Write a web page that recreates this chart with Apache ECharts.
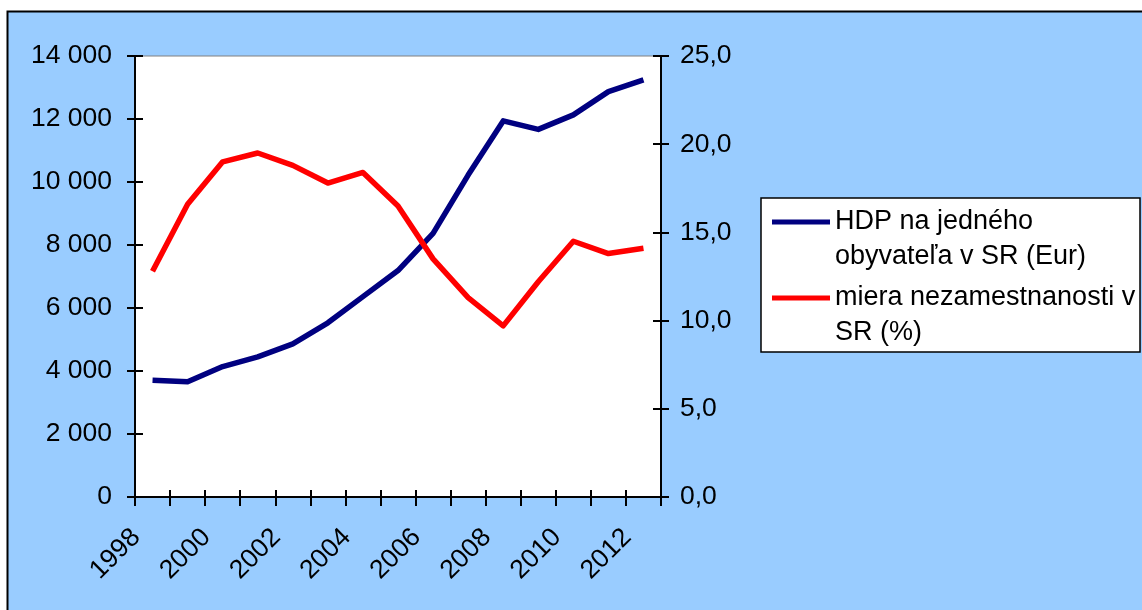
<!DOCTYPE html>
<html>
<head>
<meta charset="utf-8">
<script src="https://cdn.jsdelivr.net/npm/echarts@6/dist/echarts.min.js"></script>
<style>
  html, body { margin: 0; padding: 0; background: #ffffff; }
  #chart { width: 1142px; height: 610px; }
</style>
</head>
<body>
<div id="chart"></div>
<script>
// ---- data ----
const years = ['1998','1999','2000','2001','2002','2003','2004','2005','2006','2007','2008','2009','2010','2011','2012'];
const hdpPerCapita = [3710, 3660, 4140, 4450, 4860, 5530, 6360, 7190, 8370, 10220, 11940, 11670, 12130, 12870, 13240];
const unemployment = [12.8, 16.6, 19.0, 19.5, 18.8, 17.8, 18.4, 16.5, 13.5, 11.3, 9.7, 12.2, 14.5, 13.8, 14.1];
const seriesNames = ['HDP na jedného\nobyvateľa v SR (Eur)', 'miera nezamestnanosti v\nSR (%)'];
const leftAxis = { min: 0, max: 14000, interval: 2000 };
const rightAxis = { min: 0, max: 25, interval: 5 };

const FONT = '"Liberation Sans", Arial, sans-serif';
const FS = 26.5;
const LFS = 27;
const LH = 35;

const chart = echarts.init(document.getElementById('chart'), null, { renderer: 'canvas' });

const axisLineStyle = { color: '#000', width: 2 };
function leftFmt(v) { return String(v).replace(/\B(?=(\d{3})+(?!\d))/g, ' '); }
function rightFmt(v) { return v.toFixed(1).replace('.', ','); }

const option = {
  backgroundColor: '#ffffff',
  animation: false,
  graphic: [
    { type: 'rect', z: -10, silent: true,
      shape: { x: 7.5, y: 11.5, width: 1200, height: 700 },
      style: { fill: '#99CCFF', stroke: '#000', lineWidth: 2 } },
    { type: 'rect', z: 3, silent: true,
      shape: { x: 761, y: 198, width: 379, height: 154 },
      style: { fill: '#ffffff', stroke: '#000', lineWidth: 1.5 } }
  ],
  grid: {
    left: 135, right: 481, top: 56, bottom: 113,
    show: true, backgroundColor: '#ffffff', borderColor: '#808080', borderWidth: 1
  },
  legend: {
    orient: 'vertical',
    left: 772, top: 169.5,
    padding: 0,
    itemWidth: 58, itemHeight: 5, itemGap: -29,
    icon: 'rect',
    selectedMode: false,
    data: seriesNames,
    formatter: function (name) { return '\n' + name; },
    textStyle: { fontSize: LFS, fontFamily: FONT, color: '#000', lineHeight: LH }
  },
  xAxis: [
    { type: 'category', data: years, position: 'bottom', boundaryGap: true,
      axisLine: { show: true, lineStyle: axisLineStyle },
      axisTick: { show: true, interval: 0, length: 9, inside: false, lineStyle: axisLineStyle },
      axisLabel: { interval: 1, rotate: 45, margin: 20, padding: [0, 23, 0, 0],
        fontSize: FS, fontFamily: FONT, color: '#000' },
      splitLine: { show: false } },
    { type: 'category', data: years, position: 'bottom', boundaryGap: true,
      axisLine: { show: false },
      axisTick: { show: true, interval: 0, length: 7, inside: true, lineStyle: axisLineStyle },
      axisLabel: { show: false }, splitLine: { show: false } }
  ],
  yAxis: [
    { type: 'value', position: 'left', min: leftAxis.min, max: leftAxis.max, interval: leftAxis.interval,
      axisLine: { show: true, lineStyle: axisLineStyle },
      axisTick: { show: true, length: 8, lineStyle: axisLineStyle },
      axisLabel: { margin: 23, fontSize: FS, fontFamily: FONT, color: '#000', formatter: leftFmt },
      splitLine: { show: false } },
    { type: 'value', position: 'left', min: leftAxis.min, max: leftAxis.max, interval: leftAxis.interval,
      axisLine: { show: false },
      axisTick: { show: true, inside: true, length: 8, lineStyle: axisLineStyle },
      axisLabel: { show: false }, splitLine: { show: false } },
    { type: 'value', position: 'right', min: rightAxis.min, max: rightAxis.max, interval: rightAxis.interval,
      axisLine: { show: true, lineStyle: axisLineStyle },
      axisTick: { show: true, length: 8, lineStyle: axisLineStyle },
      axisLabel: { margin: 19, fontSize: FS, fontFamily: FONT, color: '#000', formatter: rightFmt },
      splitLine: { show: false } },
    { type: 'value', position: 'right', min: rightAxis.min, max: rightAxis.max, interval: rightAxis.interval,
      axisLine: { show: false },
      axisTick: { show: true, inside: true, length: 8, lineStyle: axisLineStyle },
      axisLabel: { show: false }, splitLine: { show: false } }
  ],
  series: [
    { name: seriesNames[0], type: 'line', xAxisIndex: 0, yAxisIndex: 0, data: hdpPerCapita,
      symbol: 'none', color: '#000080',
      lineStyle: { width: 5.5, color: '#000080', join: 'round' } },
    { name: seriesNames[1], type: 'line', xAxisIndex: 0, yAxisIndex: 2, data: unemployment,
      symbol: 'none', color: '#FF0000',
      lineStyle: { width: 5.5, color: '#FF0000', join: 'round' } }
  ]
};
chart.setOption(option);
</script>
</body>
</html>
